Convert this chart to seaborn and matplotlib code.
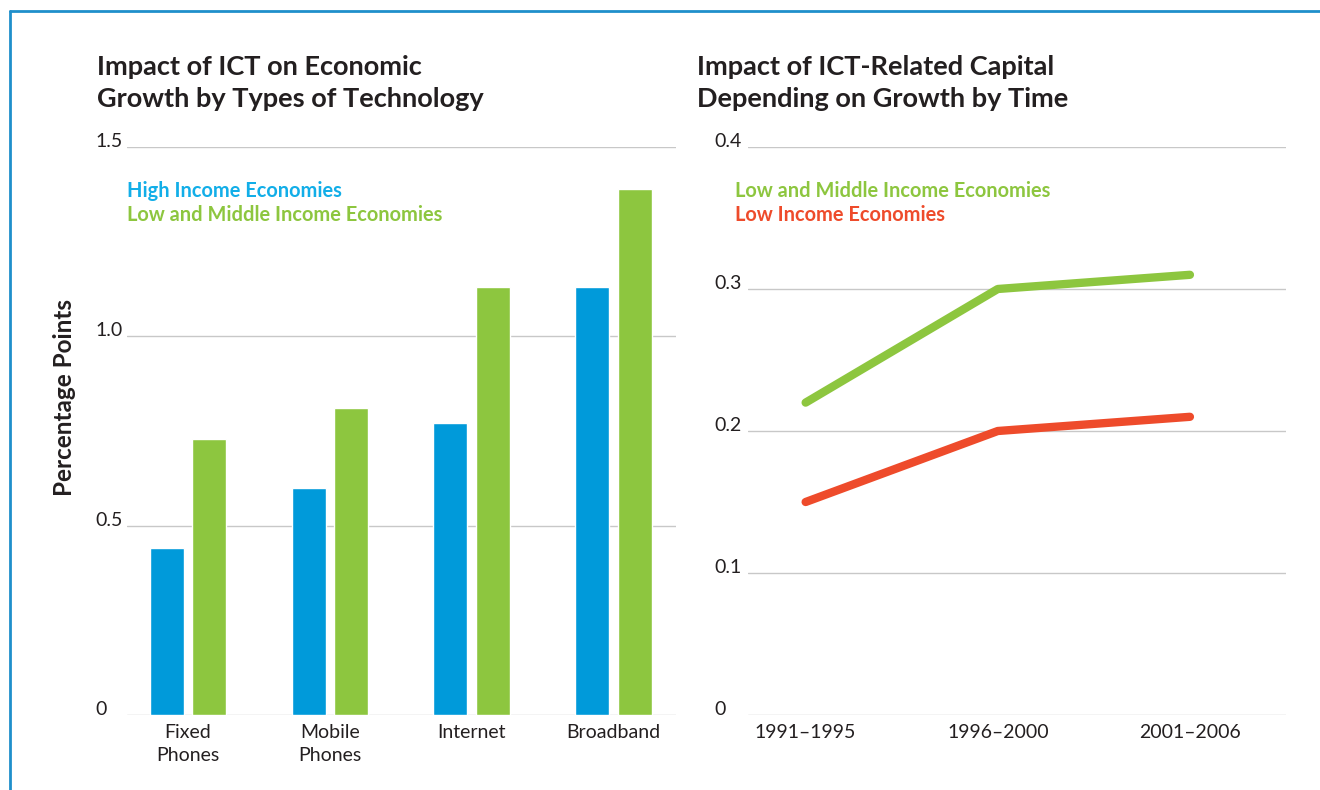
import numpy as np
import pandas as pd
import matplotlib
matplotlib.use("Agg")
import matplotlib.pyplot as plt
from matplotlib.lines import Line2D
import seaborn as sns

# data
technologies = ["Fixed\nPhones", "Mobile\nPhones", "Internet", "Broadband"]
high_income = [0.44, 0.60, 0.77, 1.13]
low_middle_income_tech = [0.73, 0.81, 1.13, 1.39]

periods = ["1991\u20131995", "1996\u20132000", "2001\u20132006"]
low_middle_income_time = [0.22, 0.30, 0.31]
low_income_time = [0.15, 0.20, 0.21]

BLUE = "#009ada"
LIGHT_BLUE = "#12aee8"
GREEN = "#8dc63f"
RED = "#ee4b2b"
DARK = "#231f20"
GRID = "#c8c8c8"
FRAME = "#1f8fcb"

sns.set_theme(style="white")
plt.rcParams["font.family"] = ["Lato", "DejaVu Sans"]

fig = plt.figure(figsize=(13.2, 7.9), dpi=100)
W, H = 1320, 790

def px_axes(x0, x1, y0, y1):
    return fig.add_axes([x0 / W, 1 - y1 / H, (x1 - x0) / W, (y1 - y0) / H])

ax1 = px_axes(127, 676, 147, 715)
ax2 = px_axes(748, 1286, 147, 715)

# left panel: grouped bars
bars = pd.DataFrame({
    "tech": technologies * 2,
    "value": high_income + low_middle_income_tech,
    "group": ["High Income Economies"] * 4 + ["Low and Middle Income Economies"] * 4,
})
sns.barplot(data=bars, x="tech", y="value", hue="group", palette=[BLUE, GREEN],
            width=0.6, gap=0.2, saturation=1, legend=False, ax=ax1)
ax1.set_xlim(-0.43, 3.44)
ax1.set_ylim(0, 1.5)
ax1.set_yticks([0, 0.5, 1.0, 1.5])
ax1.set_yticklabels(["0", "0.5", "1.0", "1.5"])

# right panel: lines
lines = pd.DataFrame({
    "period": periods * 2,
    "value": low_middle_income_time + low_income_time,
    "group": ["Low and Middle Income Economies"] * 3 + ["Low Income Economies"] * 3,
})
sns.lineplot(data=lines, x="period", y="value", hue="group", palette=[GREEN, RED],
             linewidth=6, legend=False, sort=False, ax=ax2)
for ln in ax2.get_lines():
    ln.set_solid_capstyle("round")
ax2.set_xlim(-0.3, 2.5)
ax2.set_ylim(0, 0.4)
ax2.set_yticks([0, 0.1, 0.2, 0.3, 0.4])
ax2.set_yticklabels(["0", "0.1", "0.2", "0.3", "0.4"])

for ax, pad in [(ax1, 23), (ax2, 24)]:
    ax.set_xlabel("")
    ax.set_ylabel("")
    for s in ax.spines.values():
        s.set_visible(False)
    ax.yaxis.grid(True, color=GRID, linewidth=1)
    ax.set_axisbelow(True)
    ax.tick_params(axis="both", length=0, labelsize=14, labelcolor=DARK)
    ax.tick_params(axis="y", pad=pad)
    ax.tick_params(axis="x", pad=6.5)
    for lab in ax.get_yticklabels():
        lab.set_horizontalalignment("left")
        lab.set_verticalalignment("baseline")
    for lab in ax.get_xticklabels():
        lab.set_linespacing(1.45)

# titles
fig.text(97 / W, 1 - 55 / H, "Impact of ICT on Economic\nGrowth by Types of Technology",
         fontsize=19.5, fontweight="bold", color=DARK, va="top", ha="left", linespacing=1.42)
fig.text(697 / W, 1 - 55 / H, "Impact of ICT-Related Capital\nDepending on Growth by Time",
         fontsize=19.5, fontweight="bold", color=DARK, va="top", ha="left", linespacing=1.42)

# y label
fig.text(65 / W, 1 - 398 / H, "Percentage Points", rotation=90, fontsize=17.5,
         fontweight="bold", color=DARK, ha="center", va="center")

# legends as coloured text
fig.text(127 / W, 1 - 191 / H, "High Income Economies", color=LIGHT_BLUE,
         fontsize=14.4, fontweight="bold", va="center")
fig.text(127 / W, 1 - 215 / H, "Low and Middle Income Economies", color=GREEN,
         fontsize=14.4, fontweight="bold", va="center")
fig.text(735 / W, 1 - 191 / H, "Low and Middle Income Economies", color=GREEN,
         fontsize=14.4, fontweight="bold", va="center")
fig.text(735 / W, 1 - 215 / H, "Low Income Economies", color=RED,
         fontsize=14.4, fontweight="bold", va="center")

# blue frame on top and left
fig.add_artist(Line2D([10 / W, 1], [1 - 11 / H, 1 - 11 / H], color=FRAME, linewidth=2,
                      transform=fig.transFigure))
fig.add_artist(Line2D([10 / W, 10 / W], [0, 1 - 11 / H], color=FRAME, linewidth=2,
                      transform=fig.transFigure))

fig.savefig("out.png", dpi=100)
plt.close()
